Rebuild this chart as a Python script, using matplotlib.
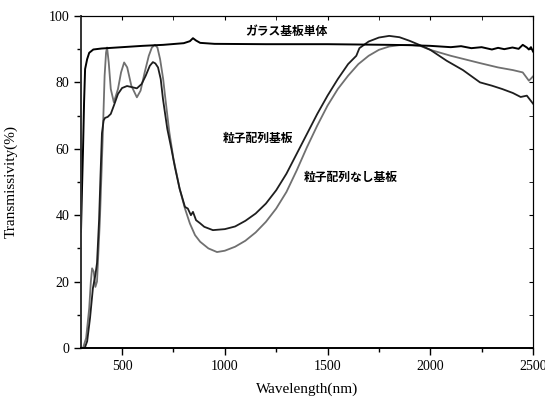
import matplotlib
matplotlib.use("Agg")
import matplotlib.pyplot as plt
from matplotlib.ticker import MultipleLocator

# glass substrate only
wl_glass = [300, 305, 310, 315, 320, 330, 340, 360, 400, 500, 600, 700, 800, 830, 845,
            860, 880, 950, 1200, 1500, 1800, 1900, 2000, 2100, 2150, 2200, 2250, 2300,
            2330, 2360, 2400, 2430, 2450, 2470, 2480, 2490, 2500]
t_glass = [35, 48, 60, 74, 84, 87, 88.9, 89.9, 90.2, 90.6, 91.0, 91.3, 91.8, 92.4, 93.3,
           92.6, 91.9, 91.6, 91.5, 91.5, 91.3, 91.2, 91.0, 90.6, 90.9, 90.3, 90.6, 89.9,
           90.4, 90.0, 90.5, 90.1, 91.3, 90.5, 89.9, 90.6, 89.3]

# particle array substrate
wl_part = [320, 330, 344, 358, 370, 378, 388, 395, 402, 410, 417, 430, 445, 460, 480,
           500, 524, 545, 572, 595, 615, 635, 650, 662, 675, 688, 699, 720, 740, 757,
           780, 806, 820, 835, 845, 860, 879, 900, 942, 1000, 1050, 1100, 1150, 1200,
           1250, 1300, 1350, 1400, 1450, 1500, 1550, 1600, 1640, 1655, 1700, 1750,
           1800, 1850, 1900, 1950, 2000, 2080, 2159, 2242, 2300, 2350, 2402, 2440,
           2470, 2495, 2500]
t_part = [0.3, 2, 9, 18, 22, 25.6, 38.5, 52, 64.7, 68.5, 69.3, 69.6, 70.5, 73, 76.5,
          78.3, 78.9, 78.6, 78.2, 79.5, 82, 85, 86.1, 85.7, 84.5, 81, 75, 66, 60, 54.5,
          48, 42.5, 42, 40, 41, 38.5, 37.6, 36.5, 35.5, 35.8, 36.6, 38.3, 40.5, 43.5,
          47.5, 52.5, 58.5, 64.5, 70.5, 76, 81, 85.5, 88, 90.3, 92.3, 93.5,
          94, 93.6, 92.5, 91.2, 89.8, 86.5, 83.7, 80, 79, 78, 76.8, 75.6,
          76, 74, 73.6]

# substrate without particle array
wl_none = [310, 325, 340, 348, 354, 362, 370, 378, 392, 405, 415, 422, 427, 435, 445,
           460, 480, 495, 510, 525, 545, 572, 590, 610, 630, 645, 660, 672, 685, 700,
           709, 730, 750, 780, 806, 830, 855, 880, 920, 962, 1000, 1050, 1100, 1150,
           1200, 1250, 1300, 1350, 1400, 1450, 1500, 1550, 1600, 1650, 1700, 1750,
           1800, 1850, 1900, 1950, 2000, 2100, 2242, 2330, 2402, 2450, 2480, 2500]
t_none = [0, 3, 12, 20, 24, 23, 18.4, 20, 38.5, 62, 82, 89, 90.5, 86, 78,
          74, 78, 83, 86, 84.5, 79, 75.5, 77.5, 83, 88, 90.5, 91.3, 90.5, 87, 81,
          76, 65, 57, 48, 42, 37.5, 34, 32, 30, 28.9, 29.3, 30.5, 32.3, 34.8,
          38, 42, 47, 53.5, 60.5, 67, 73, 78, 82, 85.5, 88, 89.8,
          90.8, 91.2, 91.3, 91, 89.8, 88, 85.8, 84.5, 83.7, 83, 80.5, 81.8]

labels = ["ガラス基板単体", "粒子配列基板", "粒子配列なし基板"]

fig = plt.figure(figsize=(5.45, 3.99), dpi=100)
ax = fig.add_axes([0.1486, 0.1278, 0.8294, 0.8322])

ax.plot(wl_none, t_none, color="#707070", lw=1.3)
ax.plot(wl_part, t_part, color="#1e1e1e", lw=1.3)
ax.plot(wl_glass, t_glass, color="#000000", lw=1.4)

ax.set_xlim(300, 2500)
ax.set_ylim(0, 100)
ax.xaxis.set_minor_locator(MultipleLocator(250))
ax.yaxis.set_major_locator(MultipleLocator(20))
ax.yaxis.set_minor_locator(MultipleLocator(10))
ax.set_xticks([500, 1000, 1500, 2000, 2500])

serif = "Liberation Serif"
ax.tick_params(which="both", direction="out", top=False, right=False, width=1)
ax.tick_params(which="major", length=5, labelsize=10)
ax.tick_params(which="minor", length=3)
for lab in ax.get_xticklabels() + ax.get_yticklabels():
    lab.set_fontfamily(serif)

# inward ticks on top and right
sec = ax.secondary_xaxis("top")
sec.set_xticks([500, 1000, 1500, 2000, 2500])
sec.xaxis.set_minor_locator(MultipleLocator(250))
sec.tick_params(which="both", direction="in", labeltop=False, length=3)
secy = ax.secondary_yaxis("right")
secy.yaxis.set_major_locator(MultipleLocator(20))
secy.yaxis.set_minor_locator(MultipleLocator(10))
secy.tick_params(which="both", direction="in", labelright=False, length=3)

for s in ["left", "bottom"]:
    ax.spines[s].set_linewidth(1.4)
ax.spines["left"].set_color("#333333")

ax.set_xlabel("Wavelength(nm)", fontfamily=serif, fontsize=11)
ax.set_ylabel("Transmissivity(%)", fontfamily=serif, fontsize=11)
ax.xaxis.set_label_coords(0.5, -0.105)
ax.yaxis.set_label_coords(-0.139, 0.5)

jp = ["Noto Sans CJK JP", "DejaVu Sans"]
ax.text(1302, 95.2, labels[0], fontfamily=jp, fontweight="bold", fontsize=8.5,
        ha="center", va="center")
ax.text(1161, 63.2, labels[1], fontfamily=jp, fontweight="bold", fontsize=8.5,
        ha="center", va="center")
ax.text(1614, 51.5, labels[2], fontfamily=jp, fontweight="bold", fontsize=8.5,
        ha="center", va="center")

fig.savefig("out.png", dpi=100)
